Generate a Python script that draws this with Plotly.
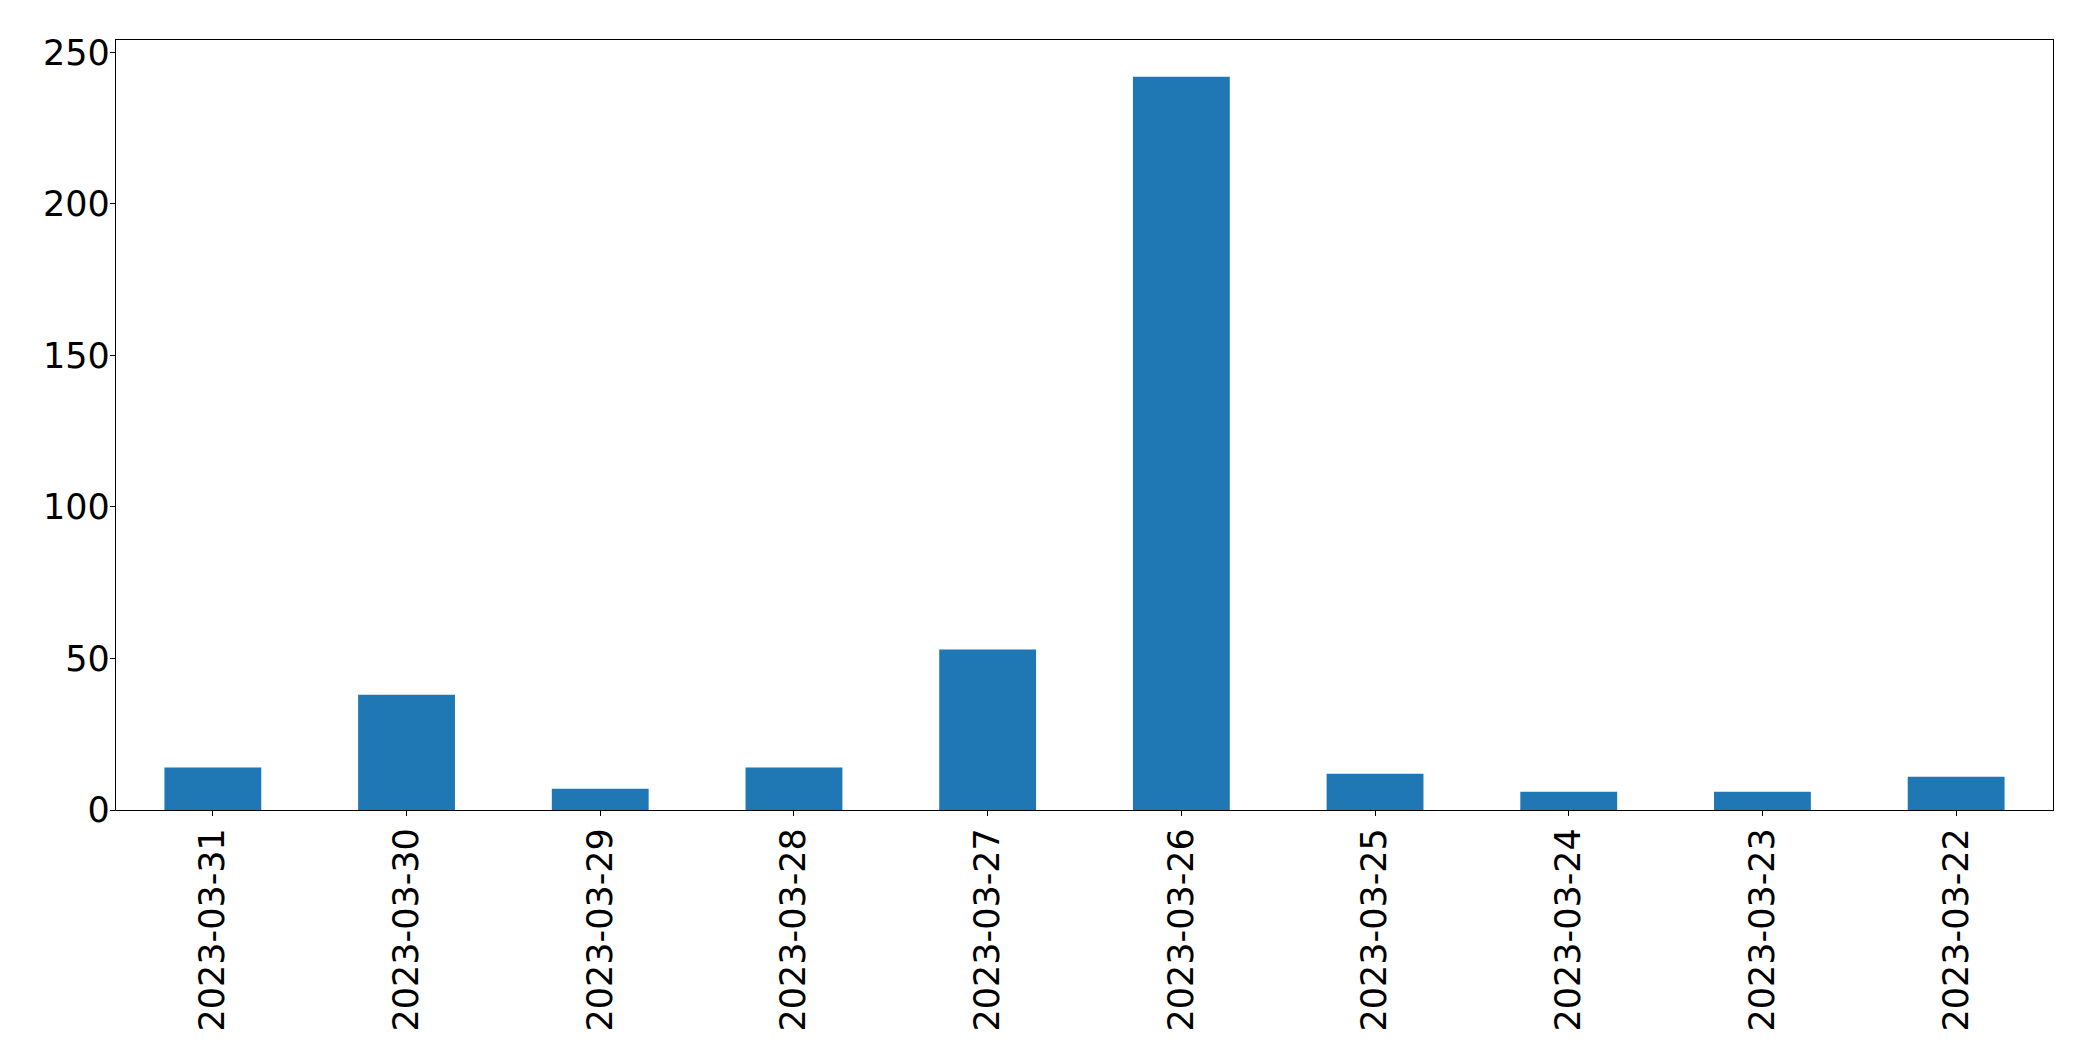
import plotly.graph_objects as go

dates = ["2023-03-31", "2023-03-30", "2023-03-29", "2023-03-28", "2023-03-27",
         "2023-03-26", "2023-03-25", "2023-03-24", "2023-03-23", "2023-03-22"]
counts = [14, 38, 7, 14, 53, 242, 12, 6, 6, 11]
y_ticks = [0, 50, 100, 150, 200, 250]

fig = go.Figure(go.Bar(x=dates, y=counts, width=0.5, marker=dict(color="#1f77b4", line=dict(width=0))))

font = dict(family="DejaVu Sans", size=35, color="black")
fig.update_layout(
    width=2093, height=1062,
    margin=dict(l=108, r=48, t=32, b=260, pad=0),
    plot_bgcolor="white", paper_bgcolor="white",
    showlegend=False, font=font,
)
fig.update_xaxes(
    type="category", range=[-0.5, 9.5], tickangle=-90,
    showline=True, linecolor="black", linewidth=1.3, mirror=True,
    ticks="outside", ticklen=5, tickwidth=1.3, tickcolor="black",
    showgrid=False, tickfont=font, ticklabelstandoff=-2,
)
fig.update_yaxes(
    range=[0, 254.1], tickvals=y_ticks,
    showline=True, linecolor="black", linewidth=1.3, mirror=True,
    ticks="outside", ticklen=5, tickwidth=1.3, tickcolor="black",
    showgrid=False, zeroline=False, tickfont=font, ticklabelstandoff=-7,
)
fig.write_html("out.html")
